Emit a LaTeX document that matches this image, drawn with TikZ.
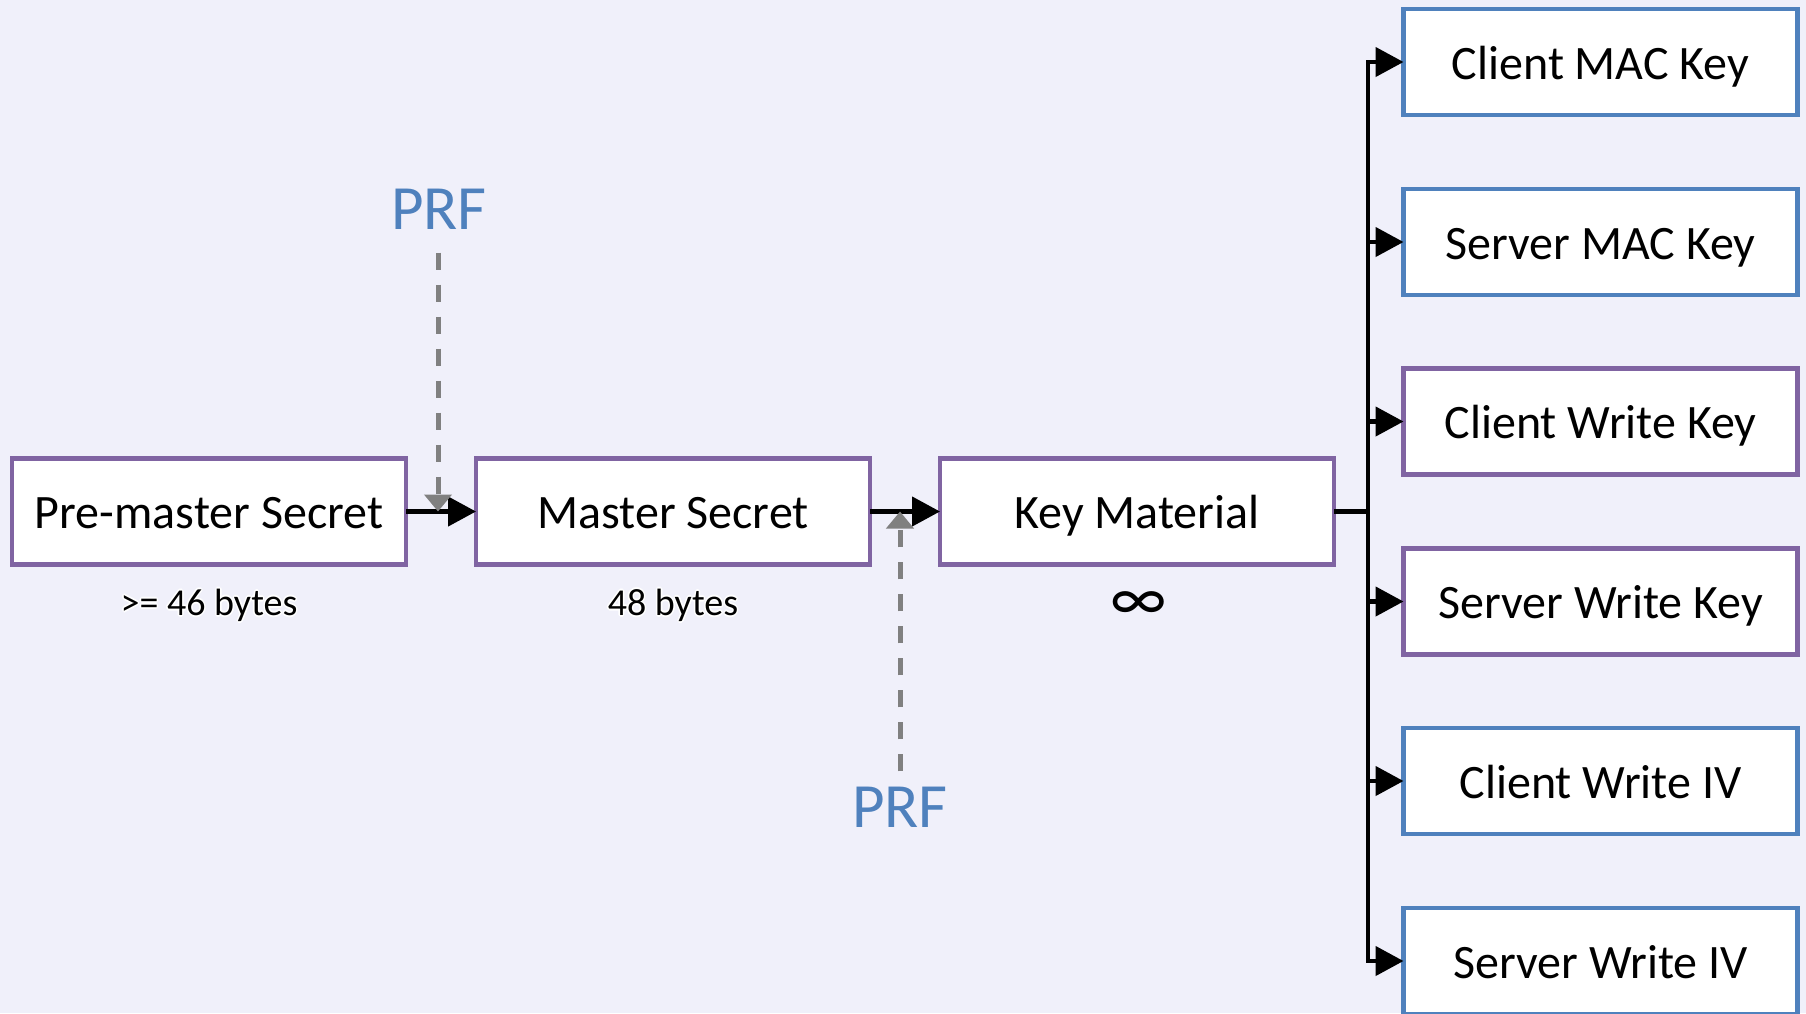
\documentclass[tikz,border=0pt]{standalone}
\usepackage{fontspec}
\setmainfont{Carlito}
\usetikzlibrary{arrows.meta,calc}

\definecolor{bgc}{RGB}{240,240,250}
\definecolor{boxpurple}{RGB}{128,100,162}
\definecolor{boxblue}{RGB}{79,129,189}
\definecolor{prfblue}{RGB}{79,129,189}
\definecolor{dashgray}{RGB}{128,128,128}

% white halo behind small captions
\newcommand\halocopy[3]{\rlap{\kern#1\raisebox{#2}{\textcolor{white}{#3}}}}
\newcommand\halotext[1]{%
  \halocopy{1.6pt}{0pt}{#1}\halocopy{-1.6pt}{0pt}{#1}%
  \halocopy{0pt}{1.6pt}{#1}\halocopy{0pt}{-1.6pt}{#1}%
  \halocopy{1.1pt}{1.1pt}{#1}\halocopy{-1.1pt}{1.1pt}{#1}%
  \halocopy{1.1pt}{-1.1pt}{#1}\halocopy{-1.1pt}{-1.1pt}{#1}%
  #1}

\begin{document}
\begin{tikzpicture}[x=1pt,y=-1pt,
  keybox/.style={draw, fill=white, line width=4.6pt, minimum width=394pt,
    minimum height=106pt, inner sep=0pt, outer sep=0pt,
    text height=34pt, text depth=0pt, font=\fontsize{48}{56}\selectfont},
  purplebox/.style={keybox, draw=boxpurple},
  bluebox/.style={keybox, draw=boxblue},
  sizelabel/.style={inner sep=0pt, text height=23pt, text depth=0pt,
    font=\fontsize{38}{44}\selectfont},
  infinitylabel/.style={inner sep=0pt, font=\fontsize{66}{76}\selectfont},
  prflabel/.style={text=prfblue, inner sep=0pt, text height=39pt, text depth=0pt,
    font=\fontsize{63}{72}\selectfont},
  flow/.style={line width=4.5pt, -{Triangle[length=28pt,width=29pt]}},
  busline/.style={line width=4.5pt},
  prfarrow/.style={draw=dashgray, line width=5pt, dash pattern=on 17pt off 15pt,
    -{Triangle[length=17pt,width=27pt]}}]

% canvas
\useasboundingbox (0,0) rectangle (1806,1013);
\fill[bgc] (0,0) rectangle (1806,1013);

% main derivation chain
\node[purplebox] (pre)    at (209,511.5)  {Pre-master Secret};
\node[purplebox] (master) at (673,511.5)  {Master Secret};
\node[purplebox] (keym)   at (1137,511.5) {Key Material};

\node[sizelabel] (presize)    at (209,604)  {\halotext{>= 46 bytes}};
\node[sizelabel] (mastersize) at (673,604)  {\halotext{48 bytes}};
\node[infinitylabel] (keysize) at (1139,606) {∞};

% derived keys
\node[bluebox]   (cmac) at (1600.5,62)    {Client MAC Key};
\node[bluebox]   (smac) at (1600.5,242)   {Server MAC Key};
\node[purplebox] (cwk)  at (1600.5,421.5) {Client Write Key};
\node[purplebox] (swk)  at (1600.5,601.5) {Server Write Key};
\node[bluebox]   (civ)  at (1600.5,781)   {Client Write IV};
\node[bluebox]   (siv)  at (1600.5,961)   {Server Write IV};

% chain arrows
\draw[flow] (pre.east) -- (master.west);
\draw[flow] (master.east) -- (keym.west);

% bus to the derived keys
\coordinate (bus) at (1368,511.5);
\draw[busline] (keym.east) -- (bus);
\draw[busline, line cap=rect] (cmac.west -| bus) -- (siv.west -| bus);
\foreach \k in {cmac,smac,cwk,swk,civ,siv}
  \draw[flow] (\k.west -| bus) -- (\k.west);

% PRF inputs
\coordinate (j1) at (438,511.5);
\coordinate (j2) at (900,511.5);
\node[prflabel] (prf1) at (439,210) {PRF};
\node[prflabel] (prf2) at (900,808) {PRF};
\draw[prfarrow, shorten <=23pt] (j1 |- prf1.south) -- (j1);
\draw[prfarrow, shorten <=17pt] (j2 |- prf2.north) -- (j2);
\end{tikzpicture}
\end{document}
